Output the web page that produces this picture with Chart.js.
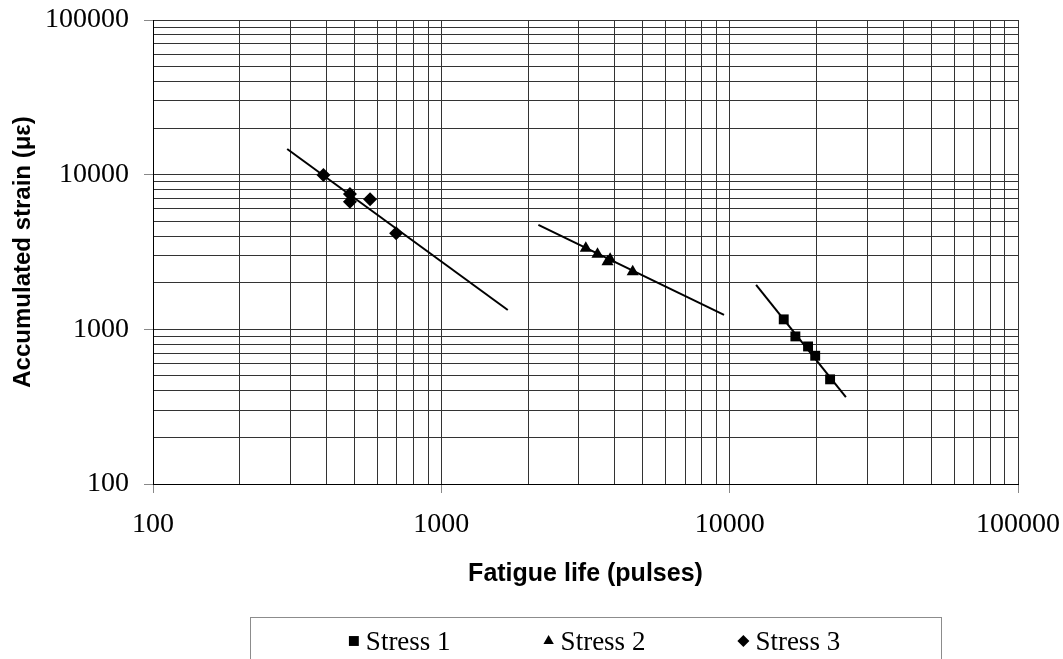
<!DOCTYPE html>
<html>
<head>
<meta charset="utf-8">
<script src="https://cdn.jsdelivr.net/npm/chart.js@4.4.0/dist/chart.umd.min.js"></script>
<style>
  body { margin: 0; background: #fff; }
  #wrap { width: 1063px; height: 659px; }
</style>
</head>
<body>
<div id="wrap"><canvas id="fatigueChart"></canvas></div>
<script>
// values
const stress1Life = [15400, 16900, 18700, 19800, 22300];
const stress1Strain = [1160, 900, 775, 675, 475];
const stress2Life = [3170, 3480, 3770, 3850, 4610];
const stress2Strain = [3340, 3060, 2740, 2840, 2360];
const stress3Life = [390, 482, 482, 566, 697];
const stress3Strain = [9950, 7500, 6690, 6930, 4180];

// trend line end points
const trend1Life = [12350, 25300];
const trend1Strain = [1940, 364];
const trend2Life = [2170, 9560];
const trend2Strain = [4730, 1240];
const trend3Life = [292, 1700];
const trend3Strain = [14660, 1334];

const decadeTicks = [100, 1000, 10000, 100000];

// log grid: 1..9 in every decade
const gridTicks = [];
decadeTicks.slice(0, -1).forEach(d => {
    for (let m = 1; m < 10; m++) gridTicks.push(d * m);
});
gridTicks.push(decadeTicks[decadeTicks.length - 1]);

const pts = (xs, ys) => xs.map((x, i) => ({ x: x, y: ys[i] }));
const isDecade = v => decadeTicks.includes(v);

const markerSet = (label, xs, ys, style) => ({
    label: label,
    data: pts(xs, ys),
    showLine: false,
    pointStyle: style,
    pointRadius: 7,
    pointHoverRadius: 7,
    backgroundColor: '#000',
    borderColor: '#000',
    borderWidth: 0,
    inLegend: true
});

const trendSet = (label, xs, ys) => ({
    label: label,
    data: pts(xs, ys),
    showLine: true,
    borderColor: '#000',
    borderWidth: 2,
    pointRadius: 0,
    pointHoverRadius: 0,
    fill: false
});

const boxLegend = {
    id: 'boxLegend',
    afterDraw(chart) {
        const ctx = chart.ctx;
        ctx.save();
        ctx.strokeStyle = '#8c8c8c';
        ctx.lineWidth = 1;
        ctx.strokeRect(250.5, 617.5, 691, 60);

        ctx.font = '27px "Liberation Serif"';
        ctx.fillStyle = '#000';
        ctx.textBaseline = 'alphabetic';
        const items = chart.data.datasets.filter(ds => ds.inLegend);
        const markW = 12, gap = 6, spacing = 92;
        const widths = items.map(ds => markW + gap + ctx.measureText(ds.label).width);
        const total = widths.reduce((a, b) => a + b, 0) + spacing * (items.length - 1);
        let x = 594 - total / 2;
        items.forEach((ds, i) => {
            Chart.helpers.drawPoint(ctx, {
                pointStyle: ds.pointStyle,
                radius: ds.pointStyle === 'rect' ? 7 : 6,
                rotation: 0,
                borderWidth: 0
            }, x + markW / 2, 641);
            ctx.fillText(ds.label, x + markW + gap, 650);
            x += widths[i] + spacing;
        });
        ctx.restore();
    }
};

const axisCommon = {
    type: 'logarithmic',
    min: 100,
    max: 100000,
    afterBuildTicks: scale => {
        scale.ticks = gridTicks.map(v => ({ value: v, major: isDecade(v) }));
    },
    ticks: {
        autoSkip: false,
        maxRotation: 0,
        color: '#000',
        padding: 15,
        font: { family: 'Liberation Serif', size: 28 },
        callback: value => isDecade(value) ? String(value) : ''
    },
    grid: {
        color: '#333',
        lineWidth: 1,
        tickLength: 9,
        tickColor: c => (c.tick && isDecade(c.tick.value)) ? '#888' : 'rgba(0,0,0,0)'
    },
    border: { color: '#000', width: 1 }
};

const ctx = document.getElementById('fatigueChart').getContext('2d');
const fatigueChart = new Chart(ctx, {
    type: 'scatter',
    data: {
        datasets: [
            markerSet('Stress 1', stress1Life, stress1Strain, 'rect'),
            markerSet('Stress 2', stress2Life, stress2Strain, 'triangle'),
            markerSet('Stress 3', stress3Life, stress3Strain, 'rectRot'),
            trendSet('Trend 1', trend1Life, trend1Strain),
            trendSet('Trend 2', trend2Life, trend2Strain),
            trendSet('Trend 3', trend3Life, trend3Strain)
        ]
    },
    options: {
        responsive: true,
        maintainAspectRatio: false,
        animation: false,
        layout: {
            padding: { top: 20, right: 45, bottom: 70, left: 0 }
        },
        plugins: {
            legend: { display: false },
            tooltip: { enabled: false }
        },
        scales: {
            x: Object.assign({}, axisCommon, {
                afterFit: s => {
                    s.height = 105;
                    s.paddingLeft = 0;
                    s.paddingRight = 0;
                },
                title: {
                    display: true,
                    text: 'Fatigue life (pulses)',
                    color: '#000',
                    font: { family: 'Liberation Sans', size: 25, weight: 'bold' },
                    padding: { top: 4, bottom: 0 }
                }
            }),
            y: Object.assign({}, axisCommon, {
                afterFit: s => {
                    s.width = 153;
                    s.paddingTop = 0;
                    s.paddingBottom = 0;
                },
                title: {
                    display: true,
                    text: 'Accumulated strain (με)',
                    color: '#000',
                    font: { family: 'Liberation Sans', size: 24, weight: 'bold' },
                    padding: { top: 9, bottom: 0 }
                }
            })
        }
    },
    plugins: [boxLegend]
});
</script>
</body>
</html>
